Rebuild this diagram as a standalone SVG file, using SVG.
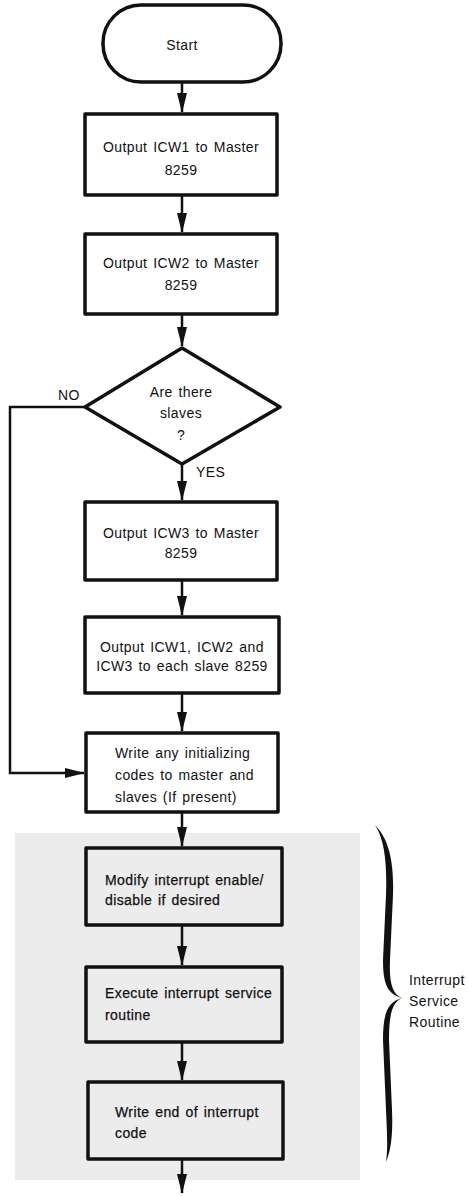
<svg xmlns="http://www.w3.org/2000/svg" width="468" height="1196" viewBox="0 0 468 1196">
<defs>
<style>
.box{fill:none;stroke:#111;stroke-width:3.5;stroke-linejoin:round}
.line{fill:none;stroke:#111;stroke-width:2.5}
.t{font-family:"Liberation Sans",Arial,sans-serif;font-size:14px;fill:#111;letter-spacing:0.4px;word-spacing:1.5px}
.c{text-anchor:middle}
.b{stroke:#111;stroke-width:0.25}
</style>
<marker id="ah2" markerUnits="userSpaceOnUse" markerWidth="20" markerHeight="11" refX="19" refY="5.5" orient="auto" viewBox="0 0 20 11">
<path d="M0,0.5 L20,5.5 L0,10.5 Z" fill="#111"/>
</marker>
</defs>
<rect id="shade" x="15" y="833" width="345" height="347" fill="#ececec"/>
<g id="connectors">
<line class="line" x1="182" y1="82" x2="182" y2="112" marker-end="url(#ah2)"/>
<line class="line" x1="182" y1="195" x2="182" y2="232" marker-end="url(#ah2)"/>
<line class="line" x1="182" y1="314" x2="182" y2="346" marker-end="url(#ah2)"/>
<line class="line" x1="182" y1="464" x2="182" y2="500" marker-end="url(#ah2)"/>
<line class="line" x1="182" y1="580" x2="182" y2="615" marker-end="url(#ah2)"/>
<line class="line" x1="182" y1="693" x2="182" y2="731" marker-end="url(#ah2)"/>
<polyline class="line" points="85,407 10,407 10,773 84,773" marker-end="url(#ah2)"/>
<line class="line" x1="182" y1="812" x2="182" y2="846" marker-end="url(#ah2)"/>
<line class="line" x1="182" y1="925" x2="182" y2="965" marker-end="url(#ah2)"/>
<line class="line" x1="182" y1="1042" x2="182" y2="1080" marker-end="url(#ah2)"/>
<line class="line" x1="182" y1="1159" x2="182" y2="1193" marker-end="url(#ah2)"/>
<text class="t" x="58" y="400">NO</text>
<text class="t" x="196" y="477">YES</text>
</g>
<g id="start">
<rect class="box" x="103" y="5" width="178" height="77" rx="38" ry="38"/>
<text class="t c" x="182" y="50">Start</text>
</g>
<g id="icw1">
<rect class="box" x="85" y="114" width="192" height="81"/>
<text class="t c" x="181" y="152">Output ICW1 to Master</text>
<text class="t c" x="181" y="175">8259</text>
</g>
<g id="icw2">
<rect class="box" x="85" y="234" width="192" height="80"/>
<text class="t c" x="181" y="268">Output ICW2 to Master</text>
<text class="t c" x="181" y="290">8259</text>
</g>
<g id="slaves">
<polygon class="box" points="182,348 280,407 182,464 85,407"/>
<text class="t c" x="181" y="397">Are there</text>
<text class="t c" x="181" y="418">slaves</text>
<text class="t c" x="181" y="440">?</text>
</g>
<g id="icw3">
<rect class="box" x="85" y="502" width="192" height="78"/>
<text class="t c" x="181" y="538">Output ICW3 to Master</text>
<text class="t c" x="181" y="558">8259</text>
</g>
<g id="slaveinit">
<rect class="box" x="85" y="617" width="194" height="76"/>
<text class="t c" x="182" y="652">Output ICW1, ICW2 and</text>
<text class="t c" x="182" y="671">ICW3 to each slave 8259</text>
</g>
<g id="initcodes">
<rect class="box" x="86" y="733" width="192" height="79"/>
<text class="t" x="115" y="758">Write any initializing</text>
<text class="t" x="115" y="780">codes to master and</text>
<text class="t" x="115" y="802">slaves (If present)</text>
</g>
<g id="modify">
<rect class="box" x="86" y="848" width="196" height="77"/>
<text class="t b" x="105" y="885">Modify interrupt enable/</text>
<text class="t b" x="105" y="905">disable if desired</text>
</g>
<g id="execute">
<rect class="box" x="86" y="967" width="196" height="75"/>
<text class="t b" x="105" y="998">Execute interrupt service</text>
<text class="t b" x="105" y="1020">routine</text>
</g>
<g id="eoi">
<rect class="box" x="88" y="1082" width="195" height="77"/>
<text class="t b" x="115" y="1117">Write end of interrupt</text>
<text class="t b" x="115" y="1138">code</text>
</g>
<g id="brace">
<path d="M375,825 C390,840 394,865 393,895 L390,960 C389,985 393,994 402,998 C393,1002 389,1012 389,1040 L392,1110 C393,1135 391,1150 386,1162 C388,1148 387,1132 386,1110 L383,1040 C383,1012 388,1002 402,998 C388,994 383,985 383,960 L386,895 C387,865 385,840 375,825 Z" fill="#111"/>
<text class="t" x="409" y="985">Interrupt</text>
<text class="t" x="409" y="1006">Service</text>
<text class="t" x="409" y="1027">Routine</text>
</g>
</svg>
